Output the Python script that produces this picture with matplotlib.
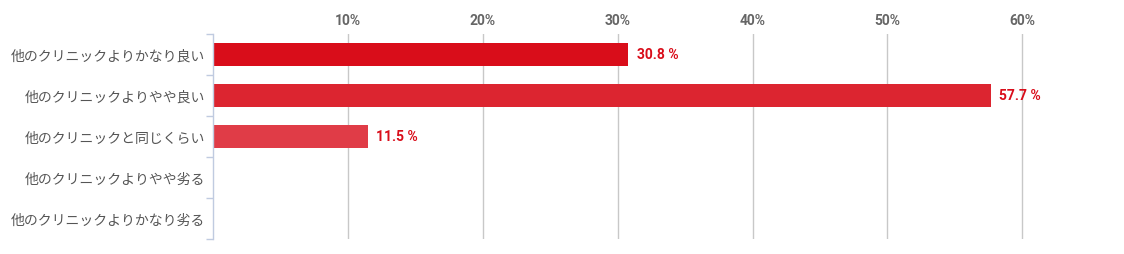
import matplotlib

matplotlib.use("Agg")
import matplotlib.pyplot as plt

categories = [
    "他のクリニックよりかなり良い",
    "他のクリニックよりやや良い",
    "他のクリニックと同じくらい",
    "他のクリニックよりやや劣る",
    "他のクリニックよりかなり劣る",
]
values = [30.8, 57.7, 11.5, 0.0, 0.0]
bar_colors = ["#d90d1a", "#dc2530", "#e03c47", "#e3505a", "#e6646d"]
x_ticks = [10, 20, 30, 40, 50, 60]

W, H = 1124, 255
fig = plt.figure(figsize=(W / 100, H / 100), dpi=100)
fig.patch.set_facecolor("white")
ax = fig.add_axes([213 / W, 1 - 240 / H, (1110 - 213) / W, 205 / H])

ypos = list(range(len(categories)))
for y, v, c in zip(ypos, values, bar_colors):
    if v > 0:
        ax.barh(y, v, height=0.58, color=c, zorder=2)
        ax.text(v + 0.6, y, f"{v:.1f} %", va="center", ha="left",
                fontsize=10, fontweight="bold", color="#d90d1a", family="Roboto")

ax.set_xlim(0, 66.5)
ax.set_ylim(len(categories) - 0.5, -0.5)
ax.set_xticks(x_ticks)
ax.set_xticklabels([f"{t}%" for t in x_ticks], fontsize=10, fontweight="bold",
                   color="#666666", family="Roboto")
ax.xaxis.tick_top()
ax.tick_params(axis="x", length=0, pad=5)
ax.grid(axis="x", color="#c8c8c8", linewidth=1, zorder=0)

ax.set_yticks([y - 0.5 for y in ypos] + [len(categories) - 0.5], minor=True)
ax.set_yticks(ypos)
ax.set_yticklabels(categories, fontsize=10, color="#555555",
                   family=["Noto Sans CJK JP", "DejaVu Sans"])
ax.tick_params(axis="y", which="major", length=0, pad=6)
ax.tick_params(axis="y", which="minor", length=5, color="#c0cbe0", width=1)

for name in ["top", "right", "bottom"]:
    ax.spines[name].set_visible(False)
ax.spines["left"].set_color("#c0cbe0")
ax.spines["left"].set_linewidth(1)

fig.savefig("out.png", dpi=100, facecolor="white")
